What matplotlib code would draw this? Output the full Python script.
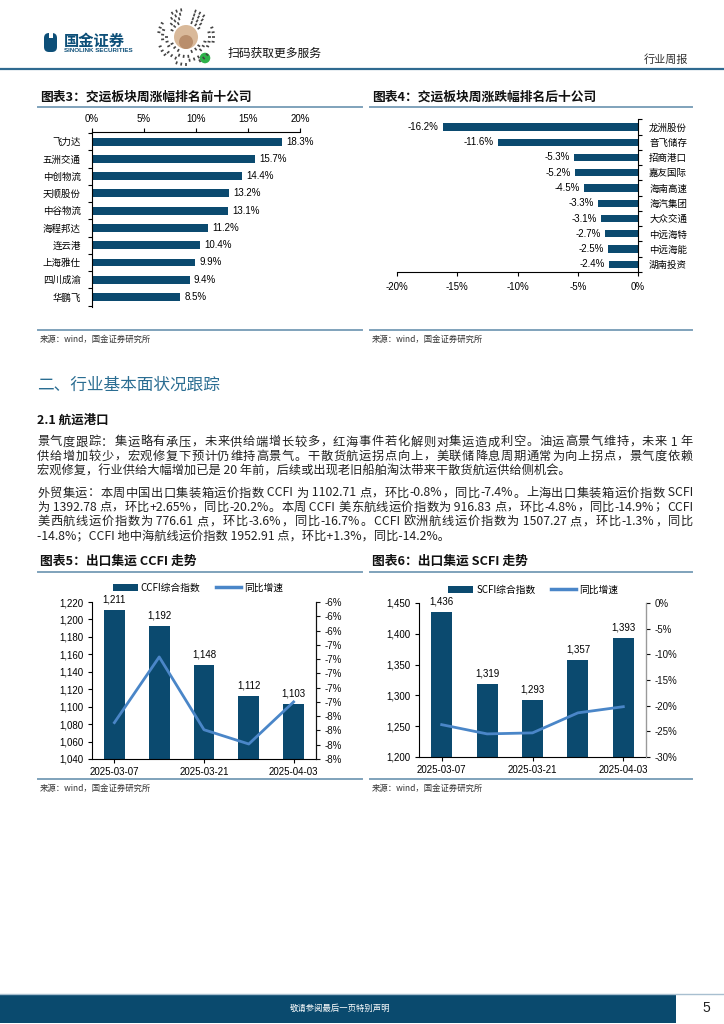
import matplotlib
matplotlib.use("Agg")
import matplotlib.pyplot as plt
import numpy as np
from matplotlib.patches import Rectangle, Circle, FancyBboxPatch
from matplotlib.lines import Line2D

plt.rcParams['font.family'] = ['Liberation Sans', 'Noto Sans CJK SC']
CJK = ['Noto Sans CJK SC', 'DejaVu Sans']

W, H = 724, 1024
NAVY = '#0b4a6f'
LINEBLUE = '#4a86c8'
RULE = '#7fa2bb'
GREY = '#333333'

# ---- data ----
top_names = ['飞力达', '五洲交通', '中创物流', '天顺股份', '中谷物流',
             '海程邦达', '连云港', '上海雅仕', '四川成渝', '华鹏飞']
top_vals = [18.3, 15.7, 14.4, 13.2, 13.1, 11.2, 10.4, 9.9, 9.4, 8.5]

bot_names = ['龙洲股份', '音飞储存', '招商港口', '嘉友国际', '海南高速',
             '海汽集团', '大众交通', '中远海特', '中远海能', '湖南投资']
bot_vals = [-16.2, -11.6, -5.3, -5.2, -4.5, -3.3, -3.1, -2.7, -2.5, -2.4]

dates = ['2025-03-07', '2025-03-14', '2025-03-21', '2025-03-28', '2025-04-03']
ccfi = [1211, 1192, 1148, 1112, 1103]
ccfi_yoy = [-7.69, -6.77, -7.79, -7.99, -7.40]
scfi = [1436, 1319, 1293, 1357, 1393]
scfi_yoy = [-23.7, -25.5, -25.3, -21.4, -20.2]

para1 = ["景气度跟踪：集运略有承压，未来供给端增长较多，红海事件若化解则对集运造成利空。油运高景气维持，未来 1 年",
         "供给增加较少，宏观修复下预计仍维持高景气。干散货航运拐点向上，美联储降息周期通常为向上拐点，景气度依赖",
         "宏观修复，行业供给大幅增加已是 20 年前，后续或出现老旧船舶淘汰带来干散货航运供给侧机会。"]
para2 = ["外贸集运：本周中国出口集装箱运价指数 CCFI 为 1102.71 点，环比-0.8%，同比-7.4%。上海出口集装箱运价指数 SCFI",
         "为 1392.78 点，环比+2.65%，同比-20.2%。本周 CCFI 美东航线运价指数为 916.83 点，环比-4.8%，同比-14.9%；CCFI",
         "美西航线运价指数为 776.61 点，环比-3.6%，同比-16.7%。CCFI 欧洲航线运价指数为 1507.27 点，环比-1.3%，同比",
         "-14.8%；CCFI 地中海航线运价指数 1952.91 点，环比+1.3%，同比-14.2%。"]


def box(x0, y0, x1, y1):
    # pixel box (top-left origin) -> figure rect
    return [x0 / W, 1 - y1 / H, (x1 - x0) / W, (y1 - y0) / H]


fig = plt.figure(figsize=(W / 100, H / 100), dpi=100)

page = fig.add_axes([0, 0, 1, 1])
page.set_xlim(0, W)
page.set_ylim(H, 0)
page.axis('off')
renderer = fig.canvas.get_renderer()

# ---- header ----
page.add_patch(FancyBboxPatch((44, 33), 13, 19, boxstyle='round,pad=0,rounding_size=5',
                              fc='#0d4f78', ec='none'))
page.add_patch(Rectangle((49, 33), 4, 5, fc='white', ec='none'))
page.text(64, 41, '国金证券', fontsize=11, fontweight='bold', color='#0d4f78',
          family=CJK, va='center')
page.text(64, 51, 'SINOLINK SECURITIES', fontsize=4.5, fontweight='bold', color='#0d4f78', va='center')

# mini-program code (decorative)
cx, cy = 186, 37
for k in range(4):
    r = 29 - k * 4
    n = 36 - k * 5
    for i in range(n):
        if (i * 7 + k * 3) % 5 in (0, 2, 3):
            a = 2 * np.pi * i / n
            page.plot([cx + r * np.cos(a), cx + (r - 3) * np.cos(a)],
                      [cy + r * np.sin(a), cy + (r - 3) * np.sin(a)],
                      color='#444444', lw=1.2, solid_capstyle='butt')
page.add_patch(Circle((cx, cy), 12, fc='#d9b99a', ec='none'))
page.add_patch(Circle((cx, cy + 5), 7, fc='#b98e6c', ec='none'))
page.add_patch(Circle((cx + 19, cy + 21), 6, fc='#2eb24a', ec='white', lw=1))
page.text(228, 53, '扫码获取更多服务', fontsize=8.5, family=CJK, va='center', color='#111111')
page.text(688, 60, '行业周报', fontsize=8, family=CJK, va='center', ha='right', color='#333333')
page.plot([0, W], [68.5, 68.5], color='#2f6a90', lw=1.6)


# ---- chart titles, rules, sources ----
def chart_frame(x0, x1, ytitle, yrule, ysrc, title):
    page.text(x0 + 2, ytitle, title, fontsize=9.2, fontweight='bold', fontstyle='italic',
              family=CJK, va='center', color='#111111')
    page.plot([x0, x1], [yrule, yrule], color=RULE, lw=1.4)
    page.plot([x0, x1], [ysrc - 9, ysrc - 9], color=RULE, lw=1.4)
    page.text(x0 + 2, ysrc, '来源：wind，国金证券研究所', fontsize=6, family=CJK,
              va='center', color=GREY)


chart_frame(38, 362, 97, 107, 339, '图表3：交运板块周涨幅排名前十公司')
chart_frame(370, 692, 97, 107, 339, '图表4：交运板块周涨跌幅排名后十公司')
chart_frame(38, 362, 561, 572, 788, '图表5：出口集运 CCFI 走势')
chart_frame(370, 692, 561, 572, 788, '图表6：出口集运 SCFI 走势')


# ---- section text ----
def tokens(s):
    out, run = [], ''
    for c in s:
        if ord(c) < 128:
            run += c
        else:
            if run:
                out.append(run)
                run = ''
            out.append(c)
    if run:
        out.append(run)
    return out


def body_line(x0, x1, yy, s, justify, fs=8.8):
    if not justify:
        page.text(x0, yy, s, fontsize=fs, family=CJK, va='center', color='#222222')
        return
    toks = tokens(s)
    widths = []
    for t in toks:
        tt = page.text(0, 0, t.replace(' ', '\u00a0'), fontsize=fs, family=CJK)
        widths.append(tt.get_window_extent(renderer).width)
        tt.remove()
    extra = (x1 - x0 - sum(widths)) / (len(toks) - 1)
    x = x0
    for t, w in zip(toks, widths):
        page.text(x, yy, t.replace(' ', '\u00a0'), fontsize=fs, family=CJK, va='center', color='#222222')
        x += w + extra


page.text(37, 385, '二、行业基本面状况跟踪', fontsize=12, family=CJK, va='center', color='#2a6d92')
page.text(37, 420, '2.1 航运港口', fontsize=9, fontweight='bold', family=CJK, va='center', color='#111111')
for i, s in enumerate(para1):
    body_line(37, 693, 442 + i * 14.3, s, i < len(para1) - 1)
for i, s in enumerate(para2):
    body_line(37, 693, 493 + i * 14.3, s, i < len(para2) - 1)

# ---- footer ----
page.plot([0, W], [994, 994], color='#a8bfd0', lw=1)
page.add_patch(Rectangle((0, 995), 676, 28, fc='#0a4a6e', ec='none'))
page.text(340, 1008, '敬请参阅最后一页特别声明', fontsize=6, family=CJK, va='center', ha='center', color='white')
page.text(706, 1008, '5', fontsize=10, va='center', ha='center', color='#222222')

# ---- chart 3: top ten ----
ax3 = fig.add_axes(box(92, 132, 300, 307))
y = np.arange(len(top_vals))
ax3.barh(y, top_vals, height=0.46, color=NAVY)
ax3.set_xlim(0, 20)
ax3.set_ylim(9.58, -0.56)
ax3.xaxis.tick_top()
ax3.set_xticks([0, 5, 10, 15, 20])
ax3.set_xticklabels(['0%', '5%', '10%', '15%', '20%'], fontsize=7)
ax3.tick_params(axis='x', length=3, pad=3, width=0.8)
ax3.set_yticks(y)
ax3.set_yticklabels(top_names, fontsize=6.8, family=CJK)
ax3.tick_params(axis='y', length=0, pad=8)
ax3.set_yticks(np.arange(-0.5, 10, 1), minor=True)
ax3.tick_params(axis='y', which='minor', length=3, width=0.8)
for sp in ['right', 'bottom']:
    ax3.spines[sp].set_visible(False)
for sp in ['left', 'top']:
    ax3.spines[sp].set_linewidth(0.8)
for yi, v in zip(y, top_vals):
    ax3.annotate(f'{v:.1f}%', (v, yi), xytext=(3, 0), textcoords='offset points',
                 va='center', ha='left', fontsize=7)

# ---- chart 4: bottom ten ----
ax4 = fig.add_axes(box(397, 119, 638, 272))
y = np.arange(len(bot_vals))
ax4.barh(y, bot_vals, height=0.48, color=NAVY)
ax4.set_xlim(-20, 0)
ax4.set_ylim(9.39, -0.52)
ax4.set_xticks([-20, -15, -10, -5, 0])
ax4.set_xticklabels(['-20%', '-15%', '-10%', '-5%', '0%'], fontsize=7)
ax4.tick_params(axis='x', length=3, pad=4, width=0.8)
ax4.yaxis.tick_right()
ax4.set_yticks(y)
ax4.set_yticklabels(bot_names, fontsize=6.8, family=CJK)
ax4.tick_params(axis='y', length=0, pad=8)
ax4.set_yticks(np.arange(-0.5, 10, 1), minor=True)
ax4.tick_params(axis='y', which='minor', length=3, width=0.8, right=True, left=False)
for sp in ['left', 'top']:
    ax4.spines[sp].set_visible(False)
for sp in ['right', 'bottom']:
    ax4.spines[sp].set_linewidth(0.8)
for yi, v in zip(y, bot_vals):
    ax4.annotate(f'{v:.1f}%', (v, yi), xytext=(-3, 0), textcoords='offset points',
                 va='center', ha='right', fontsize=7)


# ---- combo charts ----
def combo(rect, vals, yoy, ylim, yticks, y2lim, y2ticks, y2fmt, name, leg_xy, rspine):
    ax = fig.add_axes(rect)
    x = np.arange(len(vals))
    ax.bar(x, [v - ylim[0] for v in vals], bottom=ylim[0], width=0.46, color=NAVY)
    ax.set_xlim(-0.5, 4.5)
    ax.set_ylim(*ylim)
    ax.set_yticks(yticks)
    ax.set_yticklabels([f'{t:,}' for t in yticks], fontsize=7)
    ax.set_xticks([0, 2, 4])
    ax.set_xticklabels([dates[0], dates[2], dates[4]], fontsize=7)
    ax.tick_params(length=3, width=0.8, pad=3)
    ax.spines['top'].set_visible(False)
    for sp in ['left', 'bottom']:
        ax.spines[sp].set_linewidth(0.8)
    for xi, v in zip(x, vals):
        ax.annotate(f'{v:,}', (xi, v), xytext=(0, 4), textcoords='offset points',
                    ha='center', va='bottom', fontsize=7)
    ax2 = ax.twinx()
    ax2.plot(x, yoy, color=LINEBLUE, lw=2)
    ax2.set_ylim(*y2lim)
    ax2.set_yticks(y2ticks)
    ax2.set_yticklabels([y2fmt % t for t in y2ticks], fontsize=7)
    ax2.tick_params(length=3, width=0.8, pad=3, colors='#111111')
    ax2.spines['top'].set_visible(False)
    ax2.spines['left'].set_visible(False)
    ax2.spines['bottom'].set_visible(False)
    ax2.spines['right'].set_color(rspine)
    ax2.spines['right'].set_linewidth(0.8)
    handles = [Rectangle((0, 0), 1, 1, fc=NAVY, ec='none'),
               Line2D([], [], color=LINEBLUE, lw=2.5)]
    fig.legend(handles, [name + '综合指数', '同比增速'], loc='center',
               bbox_to_anchor=(leg_xy[0] / W, 1 - leg_xy[1] / H), ncol=2, frameon=False,
               prop={'family': CJK, 'size': 7}, handlelength=2.6, handleheight=0.8,
               columnspacing=1.6, handletextpad=0.3)
    return ax, ax2


combo(box(92, 602, 316, 759), ccfi, ccfi_yoy, (1040, 1220), list(range(1040, 1221, 20)),
      (-8.2, -6.0), [round(-6.0 - 0.2 * i, 1) for i in range(12)], '%.0f%%', 'CCFI',
      (198, 588), '#111111')
combo(box(419, 603, 646, 757), scfi, scfi_yoy, (1200, 1450), list(range(1200, 1451, 50)),
      (-30, 0), [0, -5, -10, -15, -20, -25, -30], '%d%%', 'SCFI',
      (533, 590), '#9a9a9a')

fig.savefig('out.png', dpi=100)
